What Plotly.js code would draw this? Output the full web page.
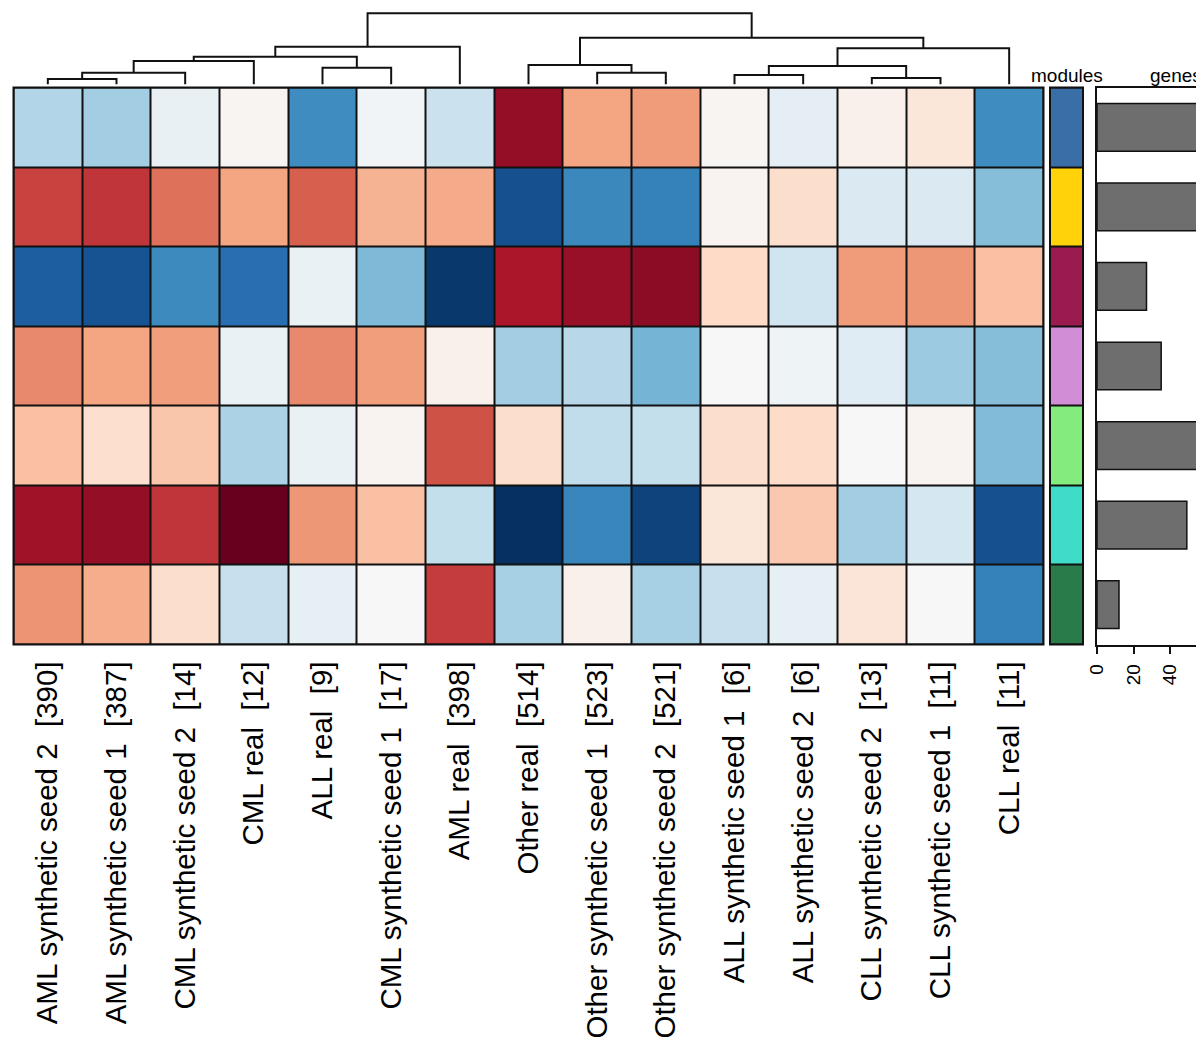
<!DOCTYPE html>
<html><head><meta charset="utf-8">
<script src="https://cdn.plot.ly/plotly-3.0.1.min.js"></script>
<style>html,body{margin:0;padding:0;background:#fff}#chart{width:1196px;height:1053px}</style>
</head><body><div id="chart"></div>
<script>
// ---- data ----
const sampleLabels = [
  "AML synthetic seed 2\u00a0\u00a0[390]",
  "AML synthetic seed 1\u00a0\u00a0[387]",
  "CML synthetic seed 2\u00a0\u00a0[14]",
  "CML real\u00a0\u00a0[12]",
  "ALL real\u00a0\u00a0[9]",
  "CML synthetic seed 1\u00a0\u00a0[17]",
  "AML real\u00a0\u00a0[398]",
  "Other real\u00a0\u00a0[514]",
  "Other synthetic seed 1\u00a0\u00a0[523]",
  "Other synthetic seed 2\u00a0\u00a0[521]",
  "ALL synthetic seed 1\u00a0\u00a0[6]",
  "ALL synthetic seed 2\u00a0\u00a0[6]",
  "CLL synthetic seed 2\u00a0\u00a0[13]",
  "CLL synthetic seed 1\u00a0\u00a0[11]",
  "CLL real\u00a0\u00a0[11]"
];
// module scores (one array per module row, columns in sample order)
const modBlue      = [-0.30,-0.35,-0.08, 0.02,-0.63,-0.03,-0.22, 0.88, 0.40, 0.43, 0.02,-0.10, 0.05, 0.12,-0.63];
const modYellow    = [ 0.68, 0.72, 0.55, 0.40, 0.60, 0.35, 0.38,-0.88,-0.65,-0.68, 0.03, 0.18,-0.15,-0.15,-0.43];
const modMaroon    = [-0.83,-0.87,-0.64,-0.76,-0.07,-0.45,-0.97, 0.82, 0.87, 0.90, 0.20,-0.20, 0.43, 0.44, 0.30];
const modOrchid    = [ 0.48, 0.40, 0.42,-0.07, 0.48, 0.42, 0.05,-0.35,-0.28,-0.47, 0.00,-0.05,-0.12,-0.37,-0.43];
const modGreen     = [ 0.30, 0.17, 0.28,-0.32,-0.07, 0.03, 0.64, 0.18,-0.25,-0.24, 0.18, 0.19, 0.00, 0.03,-0.44];
const modTurquoise = [ 0.85, 0.88, 0.72, 1.00, 0.44, 0.30,-0.24,-1.00,-0.66,-0.93, 0.12, 0.27,-0.35,-0.18,-0.88];
const modDarkGreen = [ 0.45, 0.37, 0.18,-0.23,-0.09, 0.00, 0.70,-0.33, 0.05,-0.33,-0.23,-0.09, 0.13, 0.00,-0.68];

const moduleColors = ["#3A6EA6", "#FFD20A", "#9C1B4F", "#D18ED6", "#84EC7E", "#3EDCC9", "#2A7B4A"];
const moduleGenes  = [95, 80, 27, 35, 62, 49, 12];
const geneTicks = [0, 20, 40];

// dendrogram merges: [left, right, height]; negative = leaf (1-based), positive = earlier merge (1-based)
const dendroMerge = [
  [-1, -2, 5.5],
  [1, -3, 11.8],
  [2, -4, 23.5],
  [-5, -6, 16.8],
  [3, 4, 27.8],
  [5, -7, 37.8],
  [-9, -10, 11.8],
  [-8, 7, 19.5],
  [-11, -12, 9.5],
  [-13, -14, 6.5],
  [9, 10, 18.5],
  [11, -15, 36.2],
  [8, 12, 46.8],
  [6, 13, 71.2]
];

const rdbu = ["#053061","#2166AC","#4393C3","#92C5DE","#D1E5F0","#F7F7F7","#FDDBC7","#F4A582","#D6604D","#B2182B","#67001F"];

// ---- build ----
const W = 1196, H = 1053;
const px = v => v / W;
const py = v => 1 - v / H;
const FONT = "Liberation Sans, Arial, Helvetica, sans-serif";

const zMain = [modBlue, modYellow, modMaroon, modOrchid, modGreen, modTurquoise, modDarkGreen];
const nCol = sampleLabels.length, nRow = zMain.length;
const colIdx = sampleLabels.map((_, i) => i);
const rowIdx = zMain.map((_, i) => i);

const heat = {
  type: "heatmap", z: zMain, x: colIdx, y: rowIdx,
  colorscale: rdbu.map((c, i) => [i / (rdbu.length - 1), c]),
  zmin: -1, zmax: 1, xgap: 2, ygap: 2, showscale: false,
  xaxis: "x", yaxis: "y", hoverinfo: "skip"
};

// dendrogram segments
const nodes = [];
function nodePos(id) {
  if (id < 0) return { x: -id - 1, h: 0 };
  return nodes[id - 1];
}
const dx = [], dy = [];
dendroMerge.forEach(([a, b, h]) => {
  const A = nodePos(a), B = nodePos(b);
  dx.push(A.x, A.x, B.x, B.x, null);
  dy.push(A.h, h, h, B.h, null);
  nodes.push({ x: (A.x + B.x) / 2, h: h });
});
const dendro = {
  type: "scatter", mode: "lines", x: dx, y: dy,
  line: { color: "#111", width: 2 }, xaxis: "x2", yaxis: "y2",
  hoverinfo: "skip", connectgaps: false
};

const modHeat = {
  type: "heatmap", z: moduleColors.map((_, i) => [i]), x: [0], y: rowIdx,
  colorscale: moduleColors.map((c, i) => [i / (moduleColors.length - 1), c]),
  zmin: 0, zmax: moduleColors.length - 1, xgap: 2, ygap: 2, showscale: false,
  xaxis: "x3", yaxis: "y3", hoverinfo: "skip"
};

const bars = {
  type: "bar", orientation: "h", x: moduleGenes, y: rowIdx, width: 0.6,
  marker: { color: "#6E6E6E", line: { color: "#111", width: 1.5 } },
  xaxis: "x4", yaxis: "y4", hoverinfo: "skip"
};

const heatY = [py(644.5), py(87.5)];
const hidden = { showgrid: false, zeroline: false, showticklabels: false, ticks: "", fixedrange: true };

const layout = {
  width: W, height: H, margin: { l: 0, r: 0, t: 0, b: 0 },
  paper_bgcolor: "#fff", plot_bgcolor: "rgba(0,0,0,0)", showlegend: false,
  font: { family: FONT, color: "#000" },
  xaxis: {
    domain: [px(13.5), px(1043.5)], range: [-0.5, nCol - 0.5], anchor: "y",
    tickvals: colIdx, ticktext: sampleLabels, tickangle: -90, ticks: "",
    showgrid: false, zeroline: false, ticklabelstandoff: 10,
    tickfont: { size: 29.5, family: FONT, color: "#000" }
  },
  yaxis: Object.assign({ domain: heatY, range: [nRow - 0.5, -0.5], anchor: "x" }, hidden),
  xaxis2: Object.assign({ domain: [px(13.5), px(1043.5)], range: [-0.5, nCol - 0.5], anchor: "y2" }, hidden),
  yaxis2: Object.assign({ domain: [py(84.5), 1], range: [0, 84.5], anchor: "x2" }, hidden),
  xaxis3: Object.assign({ domain: [px(1050), px(1083)], range: [-0.5, 0.5], anchor: "y3" }, hidden),
  yaxis3: Object.assign({ domain: heatY, range: [nRow - 0.5, -0.5], anchor: "x3" }, hidden),
  xaxis4: {
    domain: [px(1097), 1], range: [0, 54], anchor: "y4",
    tickvals: geneTicks, ticks: "outside", ticklen: 7, tickwidth: 2, tickcolor: "#111",
    tickangle: -90, tickfont: { size: 19, family: FONT, color: "#000" },
    showline: true, linewidth: 2, linecolor: "#111", mirror: true,
    showgrid: false, zeroline: false, ticklabelstandoff: 3
  },
  yaxis4: {
    domain: heatY, range: [nRow - 0.5, -0.5], anchor: "x4",
    showline: true, linewidth: 2, linecolor: "#111", ticks: "", showticklabels: false,
    showgrid: false, zeroline: false
  },
  shapes: [
    { type: "rect", xref: "x domain", yref: "y domain", x0: 0, x1: 1, y0: 0, y1: 1,
      fillcolor: "#111", line: { width: 0 }, layer: "below" },
    { type: "rect", xref: "x domain", yref: "y domain", x0: 0, x1: 1, y0: 0, y1: 1,
      fillcolor: "rgba(0,0,0,0)", line: { width: 2, color: "#111" }, layer: "above" },
    { type: "rect", xref: "x3 domain", yref: "y3 domain", x0: 0, x1: 1, y0: 0, y1: 1,
      fillcolor: "#111", line: { width: 0 }, layer: "below" },
    { type: "rect", xref: "x3 domain", yref: "y3 domain", x0: 0, x1: 1, y0: 0, y1: 1,
      fillcolor: "rgba(0,0,0,0)", line: { width: 2, color: "#111" }, layer: "above" }
  ],
  annotations: [
    { text: "modules", xref: "paper", yref: "paper", x: px(1066.5), y: py(75), xanchor: "center", yanchor: "middle",
      showarrow: false, font: { size: 19, family: FONT, color: "#000" } },
    { text: "genes", xref: "paper", yref: "paper", x: px(1148), y: py(75), xanchor: "left", yanchor: "middle",
      showarrow: false, font: { size: 19, family: FONT, color: "#000" } }
  ]
};

Plotly.newPlot("chart", [heat, dendro, modHeat, bars], layout, { staticPlot: true, displayModeBar: false });
</script>
</body></html>
